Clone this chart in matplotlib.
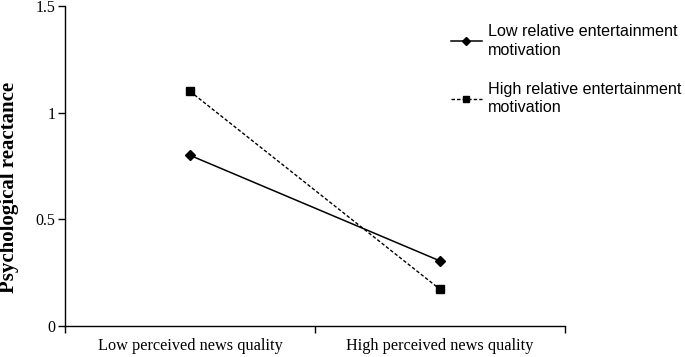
import matplotlib
matplotlib.use("Agg")
import matplotlib.pyplot as plt

categories = ["Low perceived news quality", "High perceived news quality"]
low_motivation = [0.80, 0.305]
high_motivation = [1.10, 0.172]
series_labels = ["Low relative entertainment\nmotivation", "High relative entertainment\nmotivation"]
y_ticks = [0, 0.5, 1, 1.5]
y_tick_labels = ["0", "0.5", "1", "1.5"]

fig = plt.figure(figsize=(6.85, 3.57), dpi=100)
ax = fig.add_axes([65/685, 31/357, 500/685, 320/357])

xpos = [0.5, 1.5]
l1, = ax.plot(xpos, low_motivation, color="black", lw=1.1, marker="D", markersize=5)
l2, = ax.plot(xpos, high_motivation, color="black", lw=1.0, ls=(0, (2.5, 1.5)), marker="s", markersize=6)

ax.set_xlim(0, 2)
ax.set_ylim(0, 1.5)
ax.set_xticks([0, 1, 2])
ax.set_xticklabels([])
ax.set_xticks(xpos, minor=True)
ax.set_xticklabels(categories, minor=True, fontfamily="Liberation Serif", fontsize=11.7)
ax.tick_params(axis="x", which="minor", length=0, pad=9)
ax.tick_params(axis="x", which="major", length=5, width=1, direction="out")
ax.set_yticks(y_ticks)
ax.set_yticklabels(y_tick_labels, fontfamily="Liberation Serif", fontsize=11.5)
ax.tick_params(axis="y", length=5, width=1, pad=2)
for s in ["top", "right"]:
    ax.spines[s].set_visible(False)
for s in ["left", "bottom"]:
    ax.spines[s].set_linewidth(1)

fig.text(9/685, 1 - 187/357, "Psychological reactance", rotation=90, ha="center", va="center",
         fontfamily="Liberation Serif", fontweight="bold", fontsize=15)

leg = fig.legend([l1, l2], series_labels, loc="upper left", bbox_to_anchor=(451/685, 1 - 24/357),
                 frameon=False, prop={"family": "Liberation Sans", "size": 11.6},
                 handlelength=1.9, handletextpad=0.4, labelspacing=1.5, borderaxespad=0,
                 borderpad=0)
for t in leg.get_texts():
    t.set_linespacing(1.3)
for h in leg.legend_handles:
    h.set_markersize(4.5)

fig.savefig("out.png", dpi=100)
